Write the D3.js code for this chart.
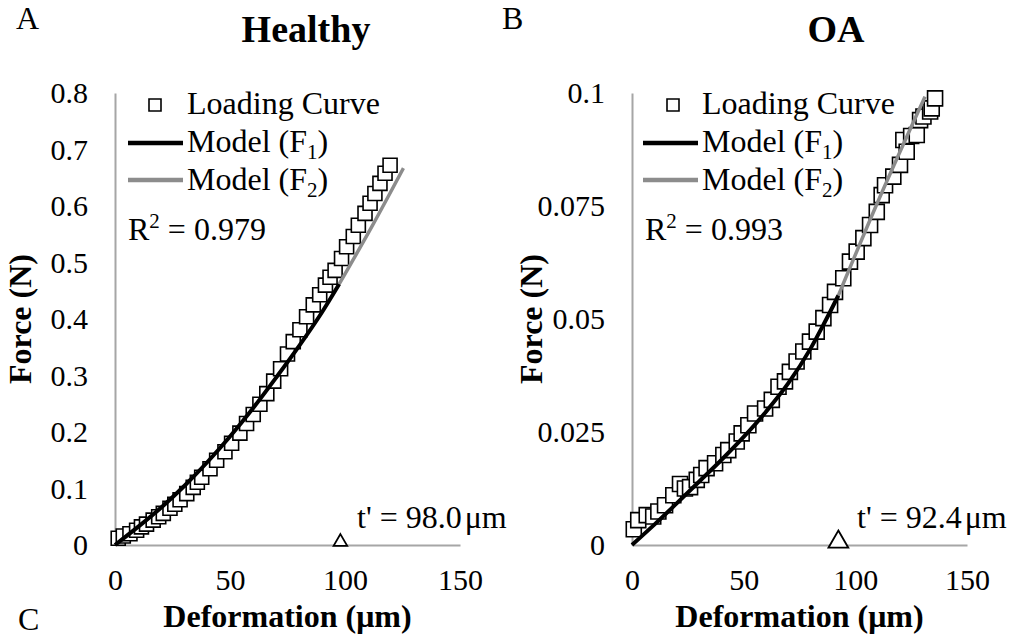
<!DOCTYPE html>
<html>
<head>
<meta charset="utf-8">
<script src="https://cdn.jsdelivr.net/npm/d3@7"></script>
<style>
  body { margin: 0; background: #fff; }
  svg { display: block; font-family: "Liberation Serif", "Times New Roman", serif; }
</style>
</head>
<body>
<svg id="chart" width="1013" height="638"></svg>
<script>
// Healthy panel: loading curve [deformation um, force N]
const healthyLoading = [
  [1.4, 0.012], [3.6, 0.016], [6.5, 0.020], [9.4, 0.026], [11.5, 0.032], [13.7, 0.037],
  [16.6, 0.044], [19.0, 0.050], [21.0, 0.056], [23.9, 0.065], [26.0, 0.072], [28.3, 0.080],
  [31.2, 0.091], [34.0, 0.102], [35.8, 0.111], [37.7, 0.120], [41.3, 0.135], [44.2, 0.150],
  [47.8, 0.165], [50.7, 0.180], [54.3, 0.198], [57.2, 0.215], [60.1, 0.231], [63.0, 0.249],
  [66.0, 0.268], [69.0, 0.290], [72.0, 0.312], [75.0, 0.338], [77.5, 0.360], [80.4, 0.381],
  [83.3, 0.404], [86.2, 0.425], [89.0, 0.443], [91.5, 0.460], [93.5, 0.474], [95.7, 0.486],
  [98.5, 0.507], [100.7, 0.528], [103.6, 0.546], [105.8, 0.566], [108.7, 0.587], [110.9, 0.605],
  [113.0, 0.622], [115.2, 0.640], [117.4, 0.658], [119.6, 0.672]
]
const healthyF1 = [
  [0, 0], [10, 0.032], [20, 0.066], [30, 0.104], [40, 0.146], [50, 0.192],
  [60, 0.242], [70, 0.296], [80, 0.352], [90, 0.412], [97.5, 0.462]
]
const healthyF2 = [[97.5, 0.462], [111.6, 0.563], [125.4, 0.667]]

// OA panel
const oaLoading = [
  [0.8, 0.0035], [2.8, 0.0055], [6.6, 0.0066], [9.5, 0.0063], [11.8, 0.0074], [14.8, 0.0088],
  [18.5, 0.0110], [21.5, 0.0135], [23.7, 0.0125], [26.0, 0.0128], [29.0, 0.0144], [31.0, 0.0155],
  [33.4, 0.0170], [37.2, 0.0181], [40.9, 0.0199], [43.1, 0.0210], [46.9, 0.0229], [49.1, 0.0247],
  [52.1, 0.0265], [55.1, 0.0291], [59.6, 0.0302], [62.6, 0.0321], [65.6, 0.0350], [68.5, 0.0362],
  [70.7, 0.0383], [73.7, 0.0406], [76.7, 0.0428], [79.7, 0.0450], [82.7, 0.0472], [85.7, 0.0502],
  [88.7, 0.0531], [90.9, 0.0560], [94.6, 0.0590], [97.6, 0.0627], [100.6, 0.0649], [103.6, 0.0679],
  [106.6, 0.0708], [109.6, 0.0737], [111.8, 0.0774], [113.3, 0.0796], [117.0, 0.0815], [120.0, 0.0841],
  [121.5, 0.0896], [123.0, 0.0870], [125.0, 0.0905], [127.5, 0.0907], [129.0, 0.0940], [130.5, 0.0948],
  [133.5, 0.0959], [134.2, 0.0966], [135.7, 0.0988]
]
const oaF1 = [
  [0, 0], [10, 0.0045], [20, 0.0092], [30, 0.0140], [40, 0.0188], [50, 0.0239],
  [60, 0.0295], [70, 0.0358], [80, 0.0435], [86, 0.0490], [92.4, 0.0552]
]
const oaF2 = [[92.4, 0.0552], [111, 0.0770], [131.2, 0.0992]]

const xTicks = [0, 50, 100, 150]
const healthyYTicks = [0, 0.1, 0.2, 0.3, 0.4, 0.5, 0.6, 0.7, 0.8]
const oaYTicks = [0, 0.025, 0.05, 0.075, 0.1]

const panels = [
  { letter: 'A', title: 'Healthy', loading: healthyLoading, f1: healthyF1, f2: healthyF2,
    yMax: 0.8, yTicks: healthyYTicks, r2: '0.979', tPrime: 98.0, tLabel: '98.0',
    left: 115, right: 460, markSize: 14, triSize: 80, tx: 357, titleX: 306, letterX: 16, yTitleX: 31 },
  { letter: 'B', title: 'OA', loading: oaLoading, f1: oaF1, f2: oaF2,
    yMax: 0.1, yTicks: oaYTicks, r2: '0.993', tPrime: 92.4, tLabel: '92.4',
    left: 632, right: 967, markSize: 15, triSize: 170, tx: 857, titleX: 836, letterX: 502, yTitleX: 542 }
]

const svg = d3.select('#chart')
const plotTop = 93, plotBottom = 545
const axisGrey = '#a6a6a6'
const modelGrey = '#8c8c8c'

panels.forEach((p, i) => {
  const x = d3.scaleLinear().domain([0, 150]).range([p.left, p.right])
  const y = d3.scaleLinear().domain([0, p.yMax]).range([plotBottom, plotTop])
  const g = svg.append('g')

  // axes, no tick marks
  const yAxis = g.append('g')
    .attr('transform', `translate(${p.left},0)`)
    .call(d3.axisLeft(y).tickValues(p.yTicks).tickSize(0).tickPadding(27).tickFormat(d => String(d)))
  const xAxis = g.append('g')
    .attr('transform', `translate(0,${plotBottom})`)
    .call(d3.axisBottom(x).tickValues(xTicks).tickSize(0).tickPadding(24))
  ;[yAxis, xAxis].forEach(a => {
    a.select('.domain').attr('stroke', axisGrey).attr('stroke-width', 2)
    a.selectAll('text').attr('font-family', 'Liberation Serif').attr('font-size', 30).attr('fill', '#000')
  })

  // loading curve squares
  g.append('g').selectAll('path').data(p.loading).enter()
    .append('path')
    .attr('d', d3.symbol(d3.symbolSquare, p.markSize * p.markSize))
    .attr('transform', d => `translate(${x(d[0])},${y(d[1])})`)
    .attr('fill', '#fff')
    .attr('stroke', '#000')
    .attr('stroke-width', 1.6)

  const line = d3.line().x(d => x(d[0])).y(d => y(d[1])).curve(d3.curveMonotoneX)
  g.append('path').datum(p.f2).attr('d', line)
    .attr('fill', 'none').attr('stroke', modelGrey).attr('stroke-width', 3.5)
  g.append('path').datum(p.f1).attr('d', line)
    .attr('fill', 'none').attr('stroke', '#000').attr('stroke-width', 4)

  // t' marker
  g.append('path')
    .attr('d', d3.symbol(d3.symbolTriangle, p.triSize))
    .attr('transform', `translate(${x(p.tPrime)},${plotBottom - 3})`)
    .attr('fill', '#fff').attr('stroke', '#000').attr('stroke-width', 1.8)
  const tt = g.append('text')
    .attr('x', p.tx).attr('y', 528)
    .attr('font-size', 32)
  tt.append('tspan').text(`t' = ${p.tLabel}`)
  tt.append('tspan').text('μm').attr('dx', 3)

  // legend
  const lx = p.left + (i === 0 ? 13 : 11)
  const tx = p.left + (i === 0 ? 72 : 70)
  g.append('path')
    .attr('d', d3.symbol(d3.symbolSquare, 144))
    .attr('transform', `translate(${p.left + (i === 0 ? 40 : 41)},105)`)
    .attr('fill', '#fff').attr('stroke', '#000').attr('stroke-width', 1.6)
  g.append('text').attr('x', tx).attr('y', 114).attr('font-size', 32).text('Loading Curve')

  const legendModels = [['1', '#000', 143, 152], ['2', modelGrey, 180, 190]]
  legendModels.forEach(([sub, col, ly, by]) => {
    g.append('line').attr('x1', lx).attr('x2', tx - 4).attr('y1', ly).attr('y2', ly)
      .attr('stroke', col).attr('stroke-width', 4.5)
    const t = g.append('text').attr('x', tx).attr('y', by).attr('font-size', 32)
    t.append('tspan').text('Model (F')
    t.append('tspan').text(sub).attr('font-size', 21).attr('dy', 7)
    t.append('tspan').text(')').attr('dy', -7)
  })

  const r = g.append('text').attr('x', p.left + 13).attr('y', 240).attr('font-size', 32)
  r.append('tspan').text('R')
  r.append('tspan').text('2').attr('font-size', 21).attr('dy', -12)
  r.append('tspan').text(` = ${p.r2}`).attr('dy', 12)

  // axis titles
  g.append('text')
    .attr('x', (p.left + p.right) / 2).attr('y', 627)
    .attr('text-anchor', 'middle').attr('font-weight', 'bold').attr('font-size', 32)
    .text('Deformation (μm)')
  g.append('text')
    .attr('transform', `translate(${p.yTitleX},${(plotTop + plotBottom) / 2}) rotate(-90)`)
    .attr('text-anchor', 'middle').attr('font-weight', 'bold').attr('font-size', 32)
    .text('Force (N)')

  // panel title and letter
  g.append('text')
    .attr('x', p.titleX).attr('y', 42)
    .attr('text-anchor', 'middle').attr('font-weight', 'bold').attr('font-size', 38)
    .text(p.title)
  g.append('text')
    .attr('x', p.letterX).attr('y', 29).attr('font-size', 32)
    .text(p.letter)
})

svg.append('text').attr('x', 18).attr('y', 630).attr('font-size', 32).text('C')
</script>
</body>
</html>
